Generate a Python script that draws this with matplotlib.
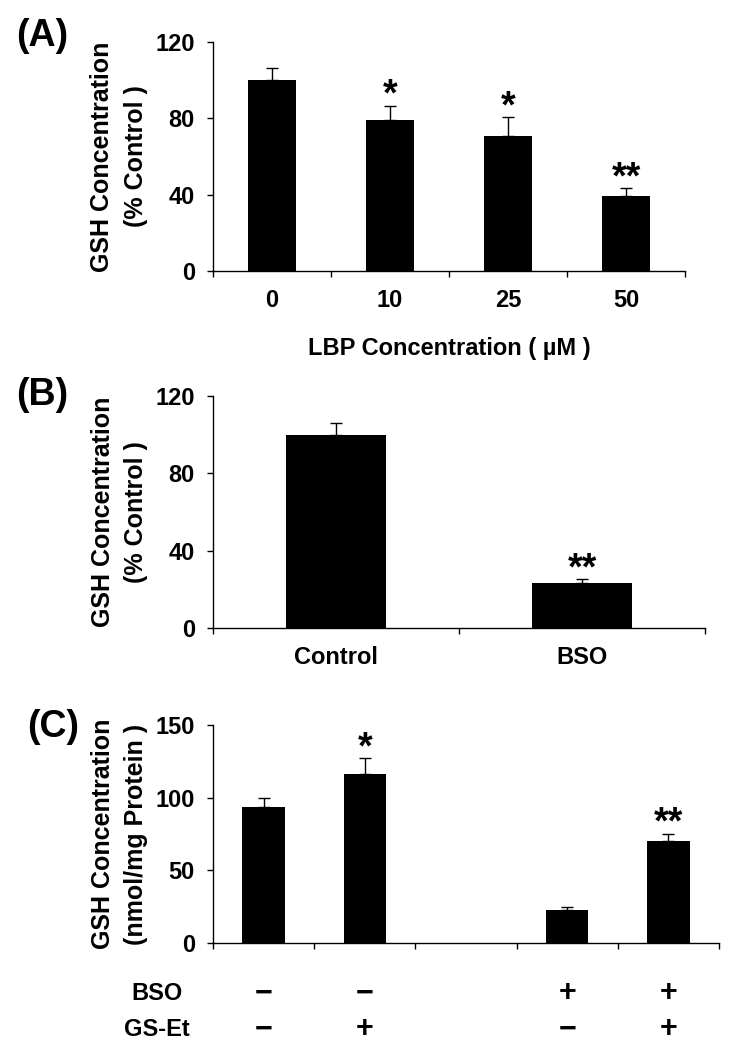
import matplotlib
matplotlib.use("Agg")
import matplotlib.pyplot as plt
import numpy as np

plt.rcParams["font.family"] = ["Liberation Sans", "DejaVu Sans"]
plt.rcParams["font.weight"] = "bold"

# panel A: GSH vs LBP concentration
a_labels = ["0", "10", "25", "50"]
a_vals = [100, 79, 70.5, 39.5]
a_err = [6.5, 7.5, 10, 4]
a_marks = ["", "*", "*", "**"]

# panel B: control vs BSO
b_labels = ["Control", "BSO"]
b_vals = [100, 23.5]
b_err = [6, 1.8]
b_marks = ["", "**"]

# panel C: BSO / GS-Et combinations (third slot empty)
c_bso = ["\u2212", "\u2212", "", "+", "+"]
c_gset = ["\u2212", "+", "", "\u2212", "+"]
c_vals = [93.5, 116, None, 23, 70.3]
c_err = [6, 11, None, 1.7, 5]
c_marks = ["", "*", "", "", "**"]

W, H = 733, 1050
fig = plt.figure(figsize=(W / 100, H / 100), dpi=100)


def add_axes(left, right, top, bottom):
    return fig.add_axes([left / W, 1 - bottom / H, (right - left) / W, (bottom - top) / H])


def style(ax, n, ymax, ystep):
    for s in ["top", "right"]:
        ax.spines[s].set_visible(False)
    for s in ["left", "bottom"]:
        ax.spines[s].set_linewidth(1.0)
    ax.set_xlim(-0.5, n - 0.5)
    ax.set_ylim(0, ymax)
    ax.set_yticks(np.arange(0, ymax + 1, ystep))
    ax.set_xticks(np.arange(n + 1) - 0.5)
    ax.set_xticklabels([])
    ax.tick_params(axis="y", direction="out", length=4, width=1, pad=9, labelsize=17)
    ax.tick_params(axis="x", which="major", direction="out", length=4, width=1)
    ax.tick_params(axis="x", which="minor", length=0, pad=13, labelsize=17)


def bars(ax, xs, vals, errs, marks, width):
    ax.bar(xs, vals, width=width, color="black", zorder=2)
    ax.errorbar(xs, vals, yerr=[np.zeros(len(errs)), errs], fmt="none",
                ecolor="black", elinewidth=1, capsize=4, capthick=1, zorder=1)
    for x, v, e, m in zip(xs, vals, errs, marks):
        if m:
            ax.annotate(m, (x, v + e), xytext=(0, 0), textcoords="offset points",
                        ha="center", va="baseline", fontsize=27, fontweight="bold")


ylab_kw = dict(fontsize=18, fontweight="bold", linespacing=1.5)

# (A)
ax = add_axes(213, 685, 42, 271)
style(ax, len(a_vals), 120, 40)
bars(ax, np.arange(len(a_vals)), a_vals, a_err, a_marks, 0.4)
ax.set_xticks(np.arange(len(a_vals)), minor=True)
ax.set_xticklabels(a_labels, minor=True)
ax.set_xlabel("LBP Concentration ( \u00b5M )", fontsize=17, fontweight="bold", labelpad=18)
ax.set_ylabel("GSH Concentration\n(% Control )", **ylab_kw)
ax.yaxis.set_label_coords(-0.138, 0.5)

# (B)
ax = add_axes(213, 705, 396, 628)
style(ax, len(b_vals), 120, 40)
bars(ax, np.arange(len(b_vals)), b_vals, b_err, b_marks, 0.41)
ax.set_xticks(np.arange(len(b_vals)), minor=True)
ax.set_xticklabels(b_labels, minor=True)
ax.set_ylabel("GSH Concentration\n(% Control )", **ylab_kw)
ax.yaxis.set_label_coords(-0.132, 0.5)

# (C)
ax = add_axes(213, 719, 725, 943)
style(ax, len(c_vals), 150, 50)
idx = [i for i, v in enumerate(c_vals) if v is not None]
bars(ax, np.array(idx), [c_vals[i] for i in idx], [c_err[i] for i in idx],
     [c_marks[i] for i in idx], 0.42)
ax.set_ylabel("GSH Concentration\n(nmol/mg Protein )", **ylab_kw)
ax.yaxis.set_label_coords(-0.128, 0.5)
tr = ax.get_xaxis_transform()
for row_y, name, signs in [(-0.23, "BSO", c_bso), (-0.395, "GS-Et", c_gset)]:
    ax.text(-1.05, row_y, name, transform=tr, ha="center", va="center",
            fontsize=17, fontweight="bold", clip_on=False)
    for i, s in enumerate(signs):
        if s:
            ax.text(i, row_y, s, transform=tr, ha="center", va="center",
                    fontsize=22, fontweight="bold", clip_on=False)

# panel letters
for (px, py), letter in zip([(42, 36), (42, 395), (53, 727)], ["(A)", "(B)", "(C)"]):
    fig.text(px / W, 1 - py / H, letter, ha="center", va="center", fontsize=27, fontweight="bold")

fig.savefig("out.png", dpi=100)
